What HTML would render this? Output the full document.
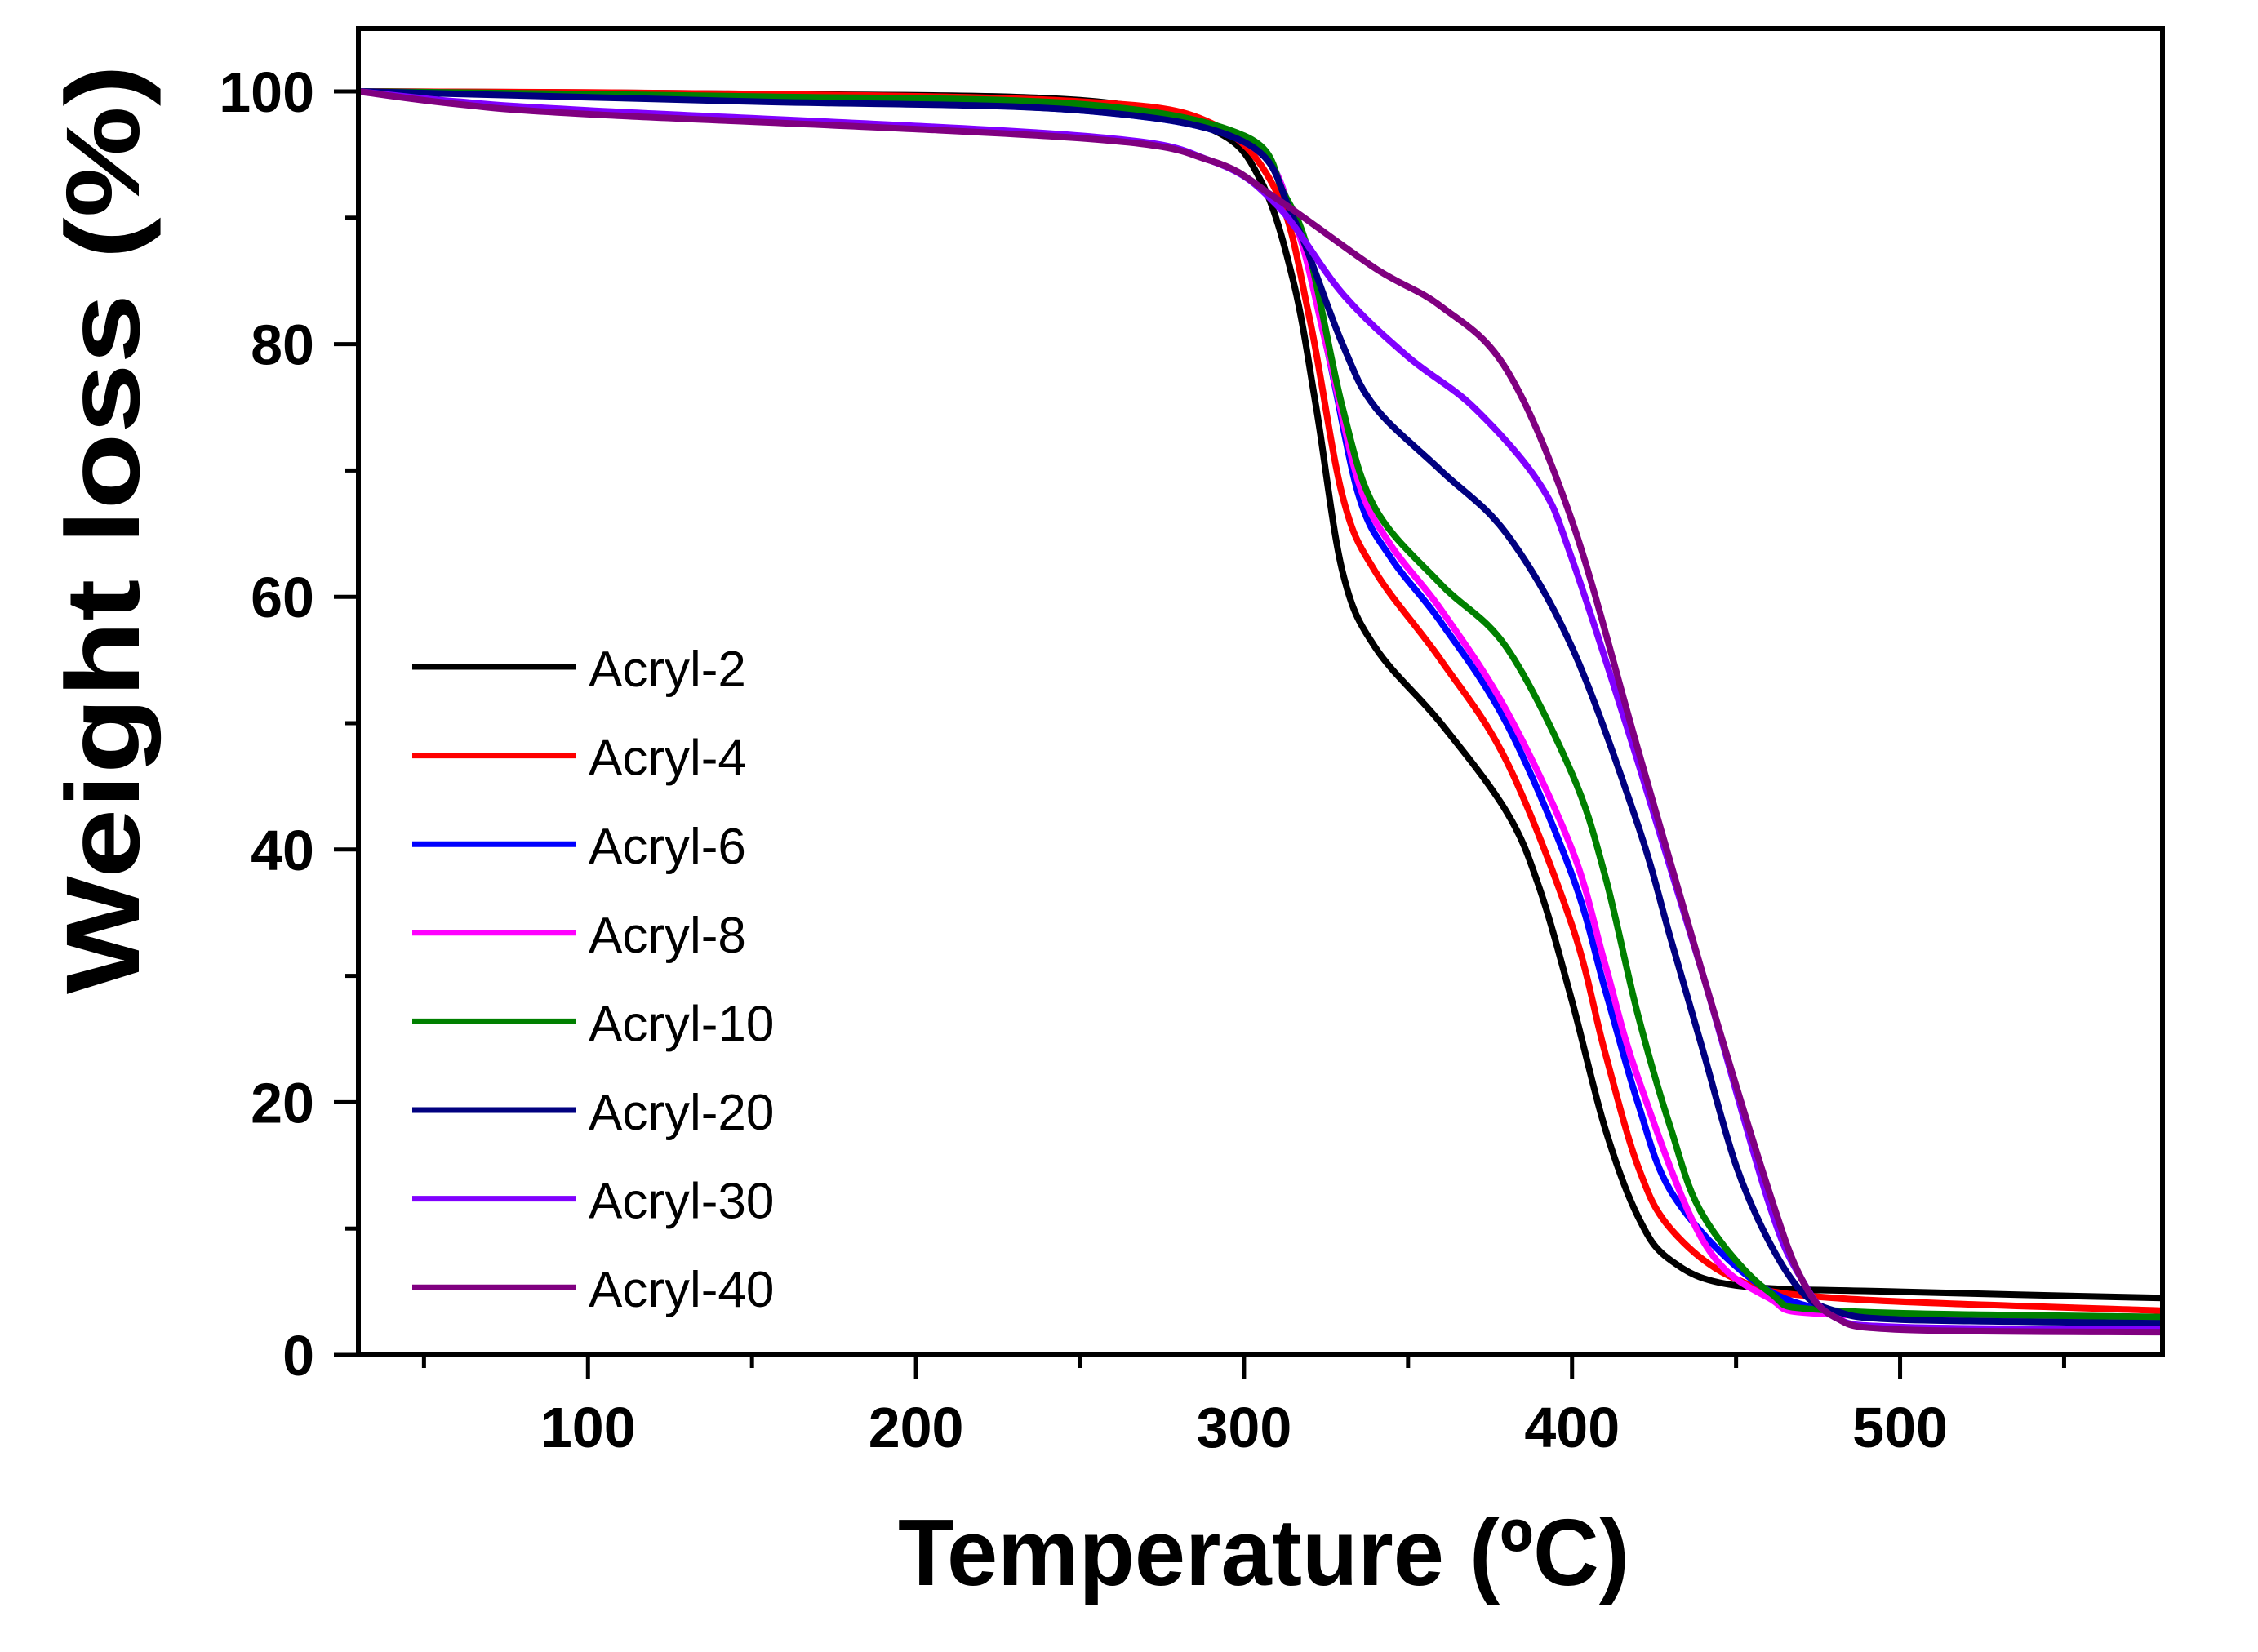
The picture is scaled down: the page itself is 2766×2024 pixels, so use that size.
<!DOCTYPE html>
<html><head><meta charset="utf-8"><style>
html,body{margin:0;padding:0;background:#fff;}
svg{display:block;}
text{font-family:"Liberation Sans",Arial,sans-serif;}
</style></head><body>
<svg id="chart" width="2766" height="2024" viewBox="0 0 2766 2024" xmlns="http://www.w3.org/2000/svg">
<g id="plot"></g>
<g id="axes"></g>
<g id="legend"></g>
<text x="1100" y="1942" textLength="896" lengthAdjust="spacingAndGlyphs" font-size="116" font-weight="bold">Temperature (ºC)</text>
<text transform="translate(170,1218) rotate(-90)" textLength="1139" lengthAdjust="spacingAndGlyphs" font-size="128" font-weight="bold">Weight loss (%)</text>
</svg>
<script>
const seriesNames = ["Acryl-2","Acryl-4","Acryl-6","Acryl-8","Acryl-10","Acryl-20","Acryl-30","Acryl-40"];
const seriesColors = ["#000000","#ff0000","#0000ff","#ff00ff","#008000","#000080","#8000ff","#800080"];
const xTicks = [100,200,300,400,500];
const yTicks = [0,20,40,60,80,100];
const temps2  = [30,150,250,290,305,315,322,330,340,360,380,390,400,410,420,430,450,500,580];
const acryl2  = [100,99.8,99.3,97,93,85,75,62,56,50,43,37,28,18,11,7.5,5.5,5,4.5];
const temps4  = [30,150,250,290,310,320,330,340,360,380,400,410,420,430,450,480,580];
const acryl4  = [100,99.8,99.2,97.5,92,82,68,62,55,47,34,24,15,10,6,4.5,3.5];
const temps6  = [30,150,250,300,315,325,335,345,360,380,400,410,420,430,450,470,500,580];
const acryl6  = [100,99.3,98.5,96,90,80,68,63,58,50,38,29,20,13,7,4,3.2,3];
const temps8  = [30,150,250,300,315,325,335,345,360,380,400,410,420,440,460,480,580];
const acryl8  = [100,99.5,98.8,96,90,80,69,64,59,51,40,31,22,9,4.5,3.2,3];
const temps10 = [30,150,250,300,312,320,330,340,360,380,400,410,420,430,440,460,480,580];
const acryl10 = [100,99.6,99,96.5,92,87,75,67,61,56,46,38,27,18,11,5,3.5,3];
const temps20 = [30,150,250,300,315,330,340,360,380,400,420,430,440,450,460,470,480,500,580];
const acryl20 = [100,99.2,98.5,96,90,80,75,70,65,56,42,33,24,15,9,5,3.5,2.8,2.5];
const temps30 = [30,60,100,250,290,310,330,350,370,390,400,420,440,460,470,480,500,580];
const acryl30 = [100,99.2,98.5,96.5,94.5,91,84,79,75,69,63,47,30,12,6,3,2.2,2];
const temps40 = [30,60,100,250,290,310,340,360,380,400,420,440,460,470,480,500,580];
const acryl40 = [100,99,98.2,96.3,94.5,91.5,86,83,78,66,48,30,13,6,3,2,1.8];
const seriesTemps = [temps2,temps4,temps6,temps8,temps10,temps20,temps30,temps40];
const seriesVals = [acryl2,acryl4,acryl6,acryl8,acryl10,acryl20,acryl30,acryl40];

const NS="http://www.w3.org/2000/svg";
const L=439,R=2649,T=35,B=1660;
const xMin=30,xMax=580,yMin=0;
function X(v){return L+(v-xMin)*(R-L)/(xMax-xMin);}
function Y(v){return B-(v-yMin)*(1660-112)/100;}
function mk(tag,attrs,parent){const e=document.createElementNS(NS,tag);for(const k in attrs)e.setAttribute(k,attrs[k]);parent.appendChild(e);return e;}

const plot=document.getElementById('plot');
function spline(pts){
  let d="M"+pts[0][0].toFixed(1)+","+pts[0][1].toFixed(1);
  for(let i=0;i<pts.length-1;i++){
    const p0=pts[Math.max(0,i-1)],p1=pts[i],p2=pts[i+1],p3=pts[Math.min(pts.length-1,i+2)];
    const c1x=p1[0]+(p2[0]-p0[0])/6,c1y=p1[1]+(p2[1]-p0[1])/6;
    const c2x=p2[0]-(p3[0]-p1[0])/6,c2y=p2[1]-(p3[1]-p1[1])/6;
    d+=" C"+c1x.toFixed(1)+","+c1y.toFixed(1)+" "+c2x.toFixed(1)+","+c2y.toFixed(1)+" "+p2[0].toFixed(1)+","+p2[1].toFixed(1);
  }
  return d;
}
seriesNames.forEach((n,i)=>{
  const pts=seriesTemps[i].map((t,j)=>[X(t),Y(seriesVals[i][j])]);
  const p=mk('path',{d:spline(pts),fill:'none',stroke:seriesColors[i],'stroke-width':8,'stroke-linejoin':'round'},plot);
  
  
});

const axes=document.getElementById('axes');
const frame=mk('rect',{x:L,y:T,width:R-L,height:B-T,fill:'none',stroke:'#000','stroke-width':6},axes);


for(let v=50;v<xMax;v+=50){
  const major=v%100===0;
  const tk=mk('line',{x1:X(v),x2:X(v),y1:B,y2:B+(major?30:16),stroke:'#000','stroke-width':5},axes);
  
  
}
xTicks.forEach(v=>{
  const t=mk('text',{x:X(v),y:1773,'text-anchor':'middle','font-size':70,'font-weight':'bold'},axes);
  t.textContent=v;
  
  
});
for(let v=0;v<=100;v+=10){
  const major=v%20===0;
  const tk=mk('line',{x1:L,x2:L-(major?30:16),y1:Y(v),y2:Y(v),stroke:'#000','stroke-width':5},axes);
  
  
}
yTicks.forEach(v=>{
  const t=mk('text',{x:385,y:Y(v)+25,'text-anchor':'end','font-size':70,'font-weight':'bold'},axes);
  t.textContent=v;
  
  
});

const legend=document.getElementById('legend');
seriesNames.forEach((n,i)=>{
  const y=817+i*108.6;
  const g=mk('g',{},legend);
  
  
  const ln=mk('line',{x1:505,x2:706,y1:y,y2:y,stroke:seriesColors[i],'stroke-width':7},g);
  
  
  const t=mk('text',{x:721,y:y+24,'font-size':62},g);
  t.textContent=n;
  
  
});
</script>
</body></html>
